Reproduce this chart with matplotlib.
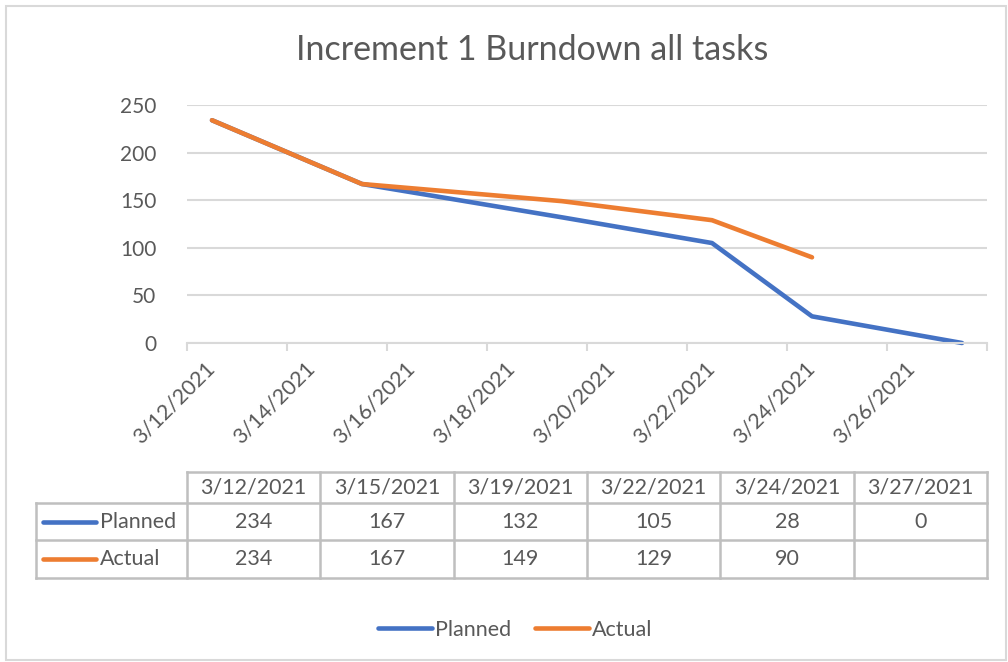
import matplotlib
matplotlib.use('Agg')
import matplotlib.pyplot as plt
from matplotlib.lines import Line2D
from matplotlib.patches import Rectangle
import datetime as dt

# Data
dates = ['3/12/2021', '3/15/2021', '3/19/2021', '3/22/2021', '3/24/2021', '3/27/2021']
planned = [234, 167, 132, 105, 28, 0]
actual = [234, 167, 149, 129, 90]
title = 'Increment 1 Burndown all tasks'
series_names = ['Planned', 'Actual']

blue = '#4472C4'
orange = '#ED7D31'
grey_txt = '#595959'
grid_c = '#D9D9D9'
table_c = '#BFBFBF'

plt.rcParams['font.family'] = ['Lato', 'DejaVu Sans']

W, H = 1008, 662
fig = plt.figure(figsize=(W / 100, H / 100), dpi=100)


def fx(px):
    return px / W


def fy(py):
    return 1 - py / H


# chart border
fig.add_artist(Rectangle((fx(6), fy(660)), fx(1000), 654 / H, transform=fig.transFigure,
                         fill=False, edgecolor=grid_c, linewidth=1.5))

# convert dates to day offsets
d0 = dt.datetime.strptime(dates[0], '%m/%d/%Y')
days = [(dt.datetime.strptime(d, '%m/%d/%Y') - d0).days for d in dates]

ax = fig.add_axes([fx(187), fy(343), fx(987) - fx(187), fy(105) - fy(343)])
ax.plot(days, planned, color=blue, lw=3.3, solid_capstyle='round', solid_joinstyle='round',
        clip_on=False)
ax.plot(days[:len(actual)], actual, color=orange, lw=3.3, solid_capstyle='round',
        solid_joinstyle='round', clip_on=False)

ax.set_xlim(-0.5, days[-1] + 0.5)
ax.set_ylim(0, 250)
ax.set_yticks(range(0, 251, 50))
ax.yaxis.grid(True, color=grid_c, lw=1.5)
ax.set_axisbelow(True)
for s in ['top', 'right', 'left']:
    ax.spines[s].set_visible(False)
ax.spines['bottom'].set_color(grid_c)
ax.spines['bottom'].set_linewidth(1.5)
ax.tick_params(axis='y', length=0, labelsize=15, labelcolor=grey_txt, pad=22)

# date ticks every 2 days, tick marks between slots
xt = list(range(0, days[-1] + 1, 2))
xlabels = [(d0 + dt.timedelta(days=k)).strftime('%-m/%-d/%Y') for k in xt]
ax.set_xticks(xt)
ax.set_xticklabels(xlabels, rotation=45, ha='right', va='center', rotation_mode='anchor')
ax.tick_params(axis='x', which='major', length=0, labelsize=15.5, labelcolor=grey_txt, pad=16)
ax.set_xticks([k - 0.5 for k in range(0, days[-1] + 2, 2)], minor=True)
ax.tick_params(axis='x', which='minor', length=6, width=1.5, color=grid_c, direction='out')

fig.text(0.5275, fy(50), title, ha='center', va='center', fontsize=24.5, color=grey_txt)

# data table
x_left, x_right = 187, 987
ncol = len(dates)
colw = (x_right - x_left) / ncol
y_rows = [472, 503, 540, 578]
lk = dict(transform=fig.transFigure, color=table_c, lw=1.8)
# horizontal lines
fig.add_artist(Line2D([fx(x_left), fx(x_right)], [fy(y_rows[0])] * 2, **lk))
for yy in y_rows[1:]:
    fig.add_artist(Line2D([fx(36), fx(x_right)], [fy(yy)] * 2, **lk))
# vertical lines
for i in range(ncol + 1):
    xx = x_left + i * colw
    fig.add_artist(Line2D([fx(xx)] * 2, [fy(y_rows[0]), fy(y_rows[-1])], **lk))
fig.add_artist(Line2D([fx(36)] * 2, [fy(y_rows[1]), fy(y_rows[-1])], **lk))

tk = dict(ha='center', va='center', fontsize=15.5, color=grey_txt)
for i, d in enumerate(dates):
    cx = x_left + (i + 0.5) * colw
    fig.text(fx(cx), fy((y_rows[0] + y_rows[1]) / 2), d, **tk)
    fig.text(fx(cx), fy((y_rows[1] + y_rows[2]) / 2), str(planned[i]), **tk)
    if i < len(actual):
        fig.text(fx(cx), fy((y_rows[2] + y_rows[3]) / 2), str(actual[i]), **tk)

for r, (name, c) in enumerate(zip(series_names, [blue, orange])):
    yc = fy((y_rows[r + 1] + y_rows[r + 2]) / 2)
    fig.add_artist(Line2D([fx(43), fx(96)], [yc, yc], transform=fig.transFigure,
                          color=c, lw=3.3, solid_capstyle='round'))
    fig.text(fx(100), yc, name, ha='left', va='center', fontsize=15.5, color=grey_txt)

# legend
leg_handles = [Line2D([], [], color=blue, lw=3.3, solid_capstyle='round'),
               Line2D([], [], color=orange, lw=3.3, solid_capstyle='round')]
fig.legend(leg_handles, series_names, loc='center', bbox_to_anchor=(fx(515), fy(630)),
           ncol=2, frameon=False, fontsize=15.5, labelcolor=grey_txt,
           handlelength=2.5, handletextpad=0.15, columnspacing=1.1)

fig.savefig('out.png', dpi=100)
